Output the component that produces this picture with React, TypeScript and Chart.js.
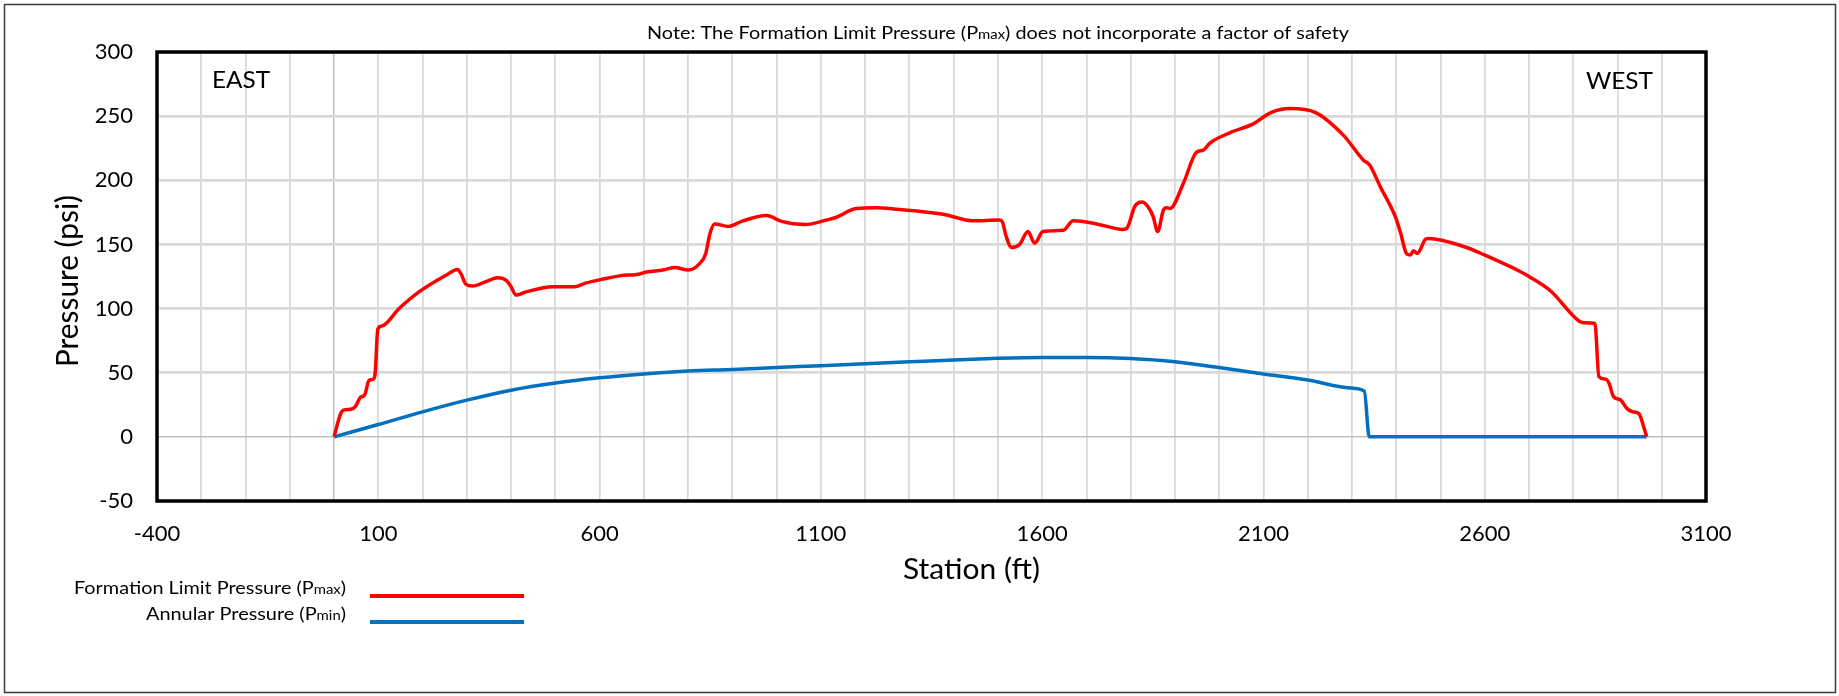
import React, { useEffect, useRef } from "react";
import { Chart, registerables } from "chart.js";

Chart.register(...registerables);

// ---- Data ----
const pmaxStations = [
  0, 15, 23, 38, 49, 60, 69, 79, 89, 93, 99, 109, 147, 192, 253, 279, 287, 298, 313, 343,
  370, 389, 400, 411, 434, 494, 543, 570, 608, 645, 691, 706, 743, 770, 800, 826, 840, 849,
  860, 891, 921, 977, 1011, 1064, 1113, 1134, 1180, 1225, 1270, 1376, 1444, 1504, 1510, 1519,
  1531, 1549, 1568, 1583, 1602, 1648, 1670, 1723, 1783, 1791, 1810, 1825, 1840, 1851, 1861,
  1874, 1881, 1889, 1919, 1949, 1964, 1979, 2024, 2077, 2118, 2160, 2217, 2281, 2326, 2340,
  2364, 2398, 2409, 2424, 2432, 2439, 2448, 2466, 2473, 2556, 2598, 2681, 2700, 2749, 2813,
  2824, 2849, 2858, 2873, 2881, 2891, 2907, 2921, 2934, 2949, 2958, 2966,
];
const pmaxValues = [
  0, 18, 21, 21.5, 24, 31, 32.5, 44, 45, 50, 84, 86.5, 100, 113, 126, 130.5, 127, 119, 117.5, 121,
  124, 122, 117, 110.5, 113, 117, 117, 120, 123, 125.5, 127, 128.5, 130, 132, 130, 135, 143, 158,
  166, 164, 168, 172.5, 168, 165.5, 169, 171, 178, 178.6, 177.5, 173.6, 168.4, 169, 167.7, 156,
  147.7, 150, 160, 151, 160, 161, 168.4, 166, 161.7, 162.5, 180, 183, 179, 171.5, 160,
  176.8, 178.6, 178, 197.5, 222, 223.5, 229, 237, 244, 253, 256, 253, 235, 215.7, 212,
  195, 171.6, 160, 142.5, 141.7, 145, 143, 154, 154.7, 148, 142, 128.7, 125, 113.7, 90.3,
  89, 88.4, 47, 45, 41.7, 31.3, 28.7, 22.2, 19.6, 17.8, 9.2, 0,
];

const pminStations = [
  0, 100, 200, 300, 400, 500, 600, 700, 800, 900, 1000, 1100, 1200, 1300, 1400, 1500, 1600,
  1700, 1800, 1900, 2000, 2100, 2200, 2300, 2328, 2339, 2966,
];
const pminValues = [
  0, 9.6, 19.5, 28.6, 36.4, 42, 46, 49, 51.3, 52.5, 54, 55.5, 57, 58.5, 60, 61.2, 61.8,
  61.8, 61, 58.5, 54, 49, 44.3, 38, 35.7, 0, 0,
];

const seriesNames = ["Formation Limit Pressure (P", "Annular Pressure (P"];
const seriesSubs = ["max", "min"];
const noteText = ["Note: The Formation Limit Pressure (P", "max", ") does not incorporate a factor of safety"];
const xTitle = "Station (ft)";
const yTitle = "Pressure (psi)";
const xMin = -400;
const xMax = 3100;
const xLabelStep = 500;
const xGridStep = 100;
const yMin = -50;
const yMax = 300;
const yStep = 50;

const FONT = "Lato, 'Open Sans', sans-serif";

type Seg = { t: string; s: number };

function drawRich(
  ctx: CanvasRenderingContext2D,
  segs: Seg[],
  x: number,
  y: number,
  size: number,
  align: "left" | "right" | "center",
  targetW?: number
) {
  const widths = segs.map((sg) => {
    ctx.font = `${size * sg.s}px ${FONT}`;
    return ctx.measureText(sg.t).width;
  });
  const natural = widths.reduce((a, b) => a + b, 0);
  let sx = targetW ? targetW / natural : 1;
  if (sx < 0.8 || sx > 1.25) sx = 1;
  const total = natural * sx;
  const start = align === "left" ? x : align === "right" ? x - total : x - total / 2;
  ctx.save();
  ctx.translate(start, y);
  ctx.scale(sx, 1);
  ctx.textAlign = "left";
  ctx.textBaseline = "alphabetic";
  ctx.fillStyle = "#000";
  let cx = 0;
  segs.forEach((sg, i) => {
    ctx.font = `${size * sg.s}px ${FONT}`;
    ctx.fillText(sg.t, cx, 0);
    cx += widths[i];
  });
  ctx.restore();
}

const decorPlugin = {
  id: "decor",
  afterDraw(chart: any) {
    const ctx: CanvasRenderingContext2D = chart.ctx;
    const a = chart.chartArea;
    ctx.save();
    // outer frame
    ctx.strokeStyle = "#3c3c3c";
    ctx.lineWidth = 1.5;
    ctx.strokeRect(4.5, 4.5, 1831, 688);
    // plot border
    ctx.strokeStyle = "#000";
    ctx.lineWidth = 3.5;
    ctx.strokeRect(a.left, a.top, a.right - a.left, a.bottom - a.top);

    // note
    drawRich(
      ctx,
      [
        { t: noteText[0], s: 1 },
        { t: noteText[1], s: 0.75 },
        { t: noteText[2], s: 1 },
      ],
      647,
      39,
      18,
      "left",
      702
    );
    // EAST / WEST
    drawRich(ctx, [{ t: "EAST", s: 1 }], 212, 88, 24, "left", 58);
    drawRich(ctx, [{ t: "WEST", s: 1 }], 1586, 89, 24, "left", 67);

    // x title
    drawRich(ctx, [{ t: xTitle, s: 1 }], 971.5, 579, 29, "center", 137);
    // y title
    ctx.save();
    ctx.translate(78, 281);
    ctx.rotate(-Math.PI / 2);
    drawRich(ctx, [{ t: yTitle, s: 1 }], 0, 0, 30, "center", 172);
    ctx.restore();

    // legend
    const colors = ["#ff0000", "#0070c0"];
    const baselines = [594, 620];
    const lineYs = [596, 622];
    const targets = [272, 200];
    for (let i = 0; i < 2; i++) {
      drawRich(
        ctx,
        [
          { t: seriesNames[i], s: 1 },
          { t: seriesSubs[i], s: 0.75 },
          { t: ")", s: 1 },
        ],
        346,
        baselines[i],
        17.5,
        "right",
        targets[i]
      );
      ctx.strokeStyle = colors[i];
      ctx.lineWidth = 4;
      ctx.beginPath();
      ctx.moveTo(370, lineYs[i]);
      ctx.lineTo(524, lineYs[i]);
      ctx.stroke();
    }
    ctx.restore();
  },
};

export default function App() {
  const canvasRef = useRef<HTMLCanvasElement | null>(null);

  useEffect(() => {
    const canvas = canvasRef.current;
    if (!canvas) return;
    const pmax = pmaxStations.map((x, i) => ({ x, y: pmaxValues[i] }));
    const pmin = pminStations.map((x, i) => ({ x, y: pminValues[i] }));

    const chart = new Chart(canvas, {
      type: "line",
      data: {
        datasets: [
          {
            label: seriesNames[0] + seriesSubs[0] + ")",
            data: pmax,
            borderColor: "#ff0000",
            backgroundColor: "#ff0000",
            borderWidth: 3.5,
            pointRadius: 0,
            cubicInterpolationMode: "monotone",
            fill: false,
          },
          {
            label: seriesNames[1] + seriesSubs[1] + ")",
            data: pmin,
            borderColor: "#0070c0",
            backgroundColor: "#0070c0",
            borderWidth: 3.5,
            pointRadius: 0,
            cubicInterpolationMode: "monotone",
            fill: false,
          },
        ],
      },
      options: {
        animation: false,
        responsive: false,
        maintainAspectRatio: false,
        layout: { padding: { left: 77, right: 133, top: 52, bottom: 135 } },
        plugins: { legend: { display: false }, tooltip: { enabled: false } },
        scales: {
          x: {
            type: "linear",
            min: xMin,
            max: xMax,
            afterFit: (s: any) => {
              s.height = 60;
            },
            ticks: {
              stepSize: xGridStep,
              autoSkip: false,
              maxRotation: 0,
              minRotation: 0,
              padding: 20,
              color: "#000",
              font: { family: FONT, size: 22 },
              callback: (v: any) => (((Number(v) - xMin) % xLabelStep) === 0 ? String(v) : ""),
            },
            grid: {
              drawTicks: false,
              color: (c: any) => (c.tick && c.tick.value === 0 ? "#bfbfbf" : "#d9d9d9"),
              lineWidth: (c: any) => (c.tick && c.tick.value === 0 ? 1.5 : 1.75),
            },
            border: { display: false },
          },
          y: {
            type: "linear",
            min: yMin,
            max: yMax,
            afterFit: (s: any) => {
              s.width = 80;
            },
            ticks: {
              stepSize: yStep,
              padding: 24,
              color: "#000",
              font: { family: FONT, size: 22 },
            },
            grid: {
              drawTicks: false,
              color: (c: any) => (c.tick && c.tick.value === 0 ? "#bfbfbf" : "#d9d9d9"),
              lineWidth: (c: any) => (c.tick && c.tick.value === 0 ? 1.5 : 2.75),
            },
            border: { display: false },
          },
        },
      },
      plugins: [decorPlugin],
    } as any);

    let alive = true;
    if ((document as any).fonts && (document as any).fonts.load) {
      Promise.all([
        (document as any).fonts.load(`22px Lato`),
        (document as any).fonts.load(`18px Lato`),
      ]).then(() => {
        if (alive) chart.update();
      });
    }
    return () => {
      alive = false;
      chart.destroy();
    };
  }, []);

  return (
    <div style={{ position: "fixed", left: 0, top: 0, width: 1839, height: 696, background: "#fff" }}>
      <canvas ref={canvasRef} width={1839} height={696} style={{ width: 1839, height: 696, display: "block" }} />
    </div>
  );
}
